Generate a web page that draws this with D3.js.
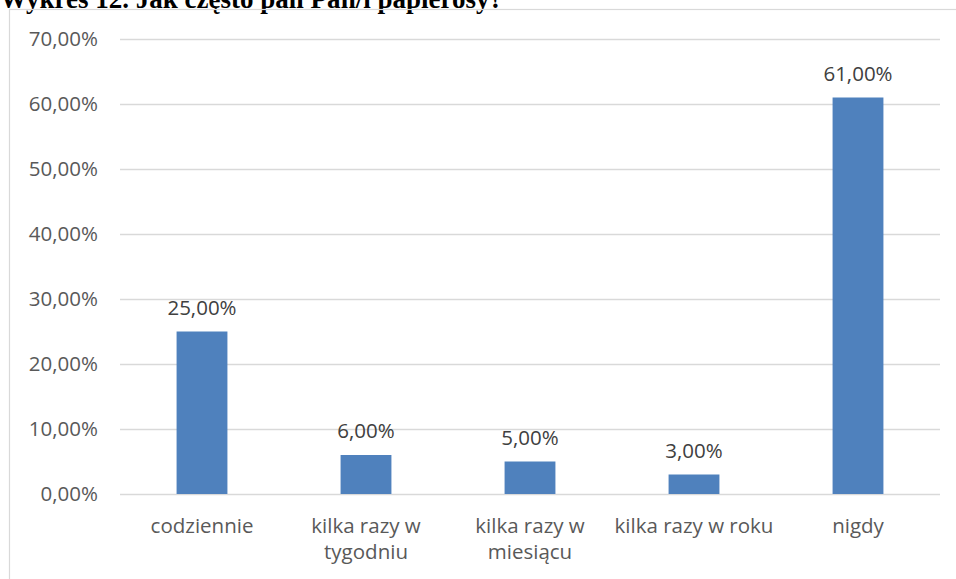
<!DOCTYPE html>
<html>
<head>
<meta charset="utf-8">
<script src="https://cdn.jsdelivr.net/npm/d3@7"></script>
<style>
  body { margin: 0; background: #fff; }
  svg { display: block; }
</style>
</head>
<body>
<svg id="chart" width="956" height="579"></svg>
<script>
// dane z wykresu
const categories = ["codziennie", "kilka razy w tygodniu", "kilka razy w miesiącu", "kilka razy w roku", "nigdy"];
const labelLines = [["codziennie"], ["kilka razy w", "tygodniu"], ["kilka razy w", "miesiącu"], ["kilka razy w roku"], ["nigdy"]];
const values = [0.25, 0.06, 0.05, 0.03, 0.61];
const yTicks = [0, 0.1, 0.2, 0.3, 0.4, 0.5, 0.6, 0.7];

const svg = d3.select("#chart");
const fontFam = "'Open Sans', 'Noto Sans', sans-serif";
const fs = 20.5;

const plot = { left: 120, right: 940, top: 39, bottom: 494 };

// tytuł (ucięty u góry jak w oryginale)
svg.append("text")
  .attr("x", 0)
  .attr("y", 8)
  .attr("font-family", "'Liberation Serif', 'Times New Roman', serif")
  .attr("font-weight", "bold")
  .attr("font-size", 27)
  .attr("textLength", 503)
  .attr("lengthAdjust", "spacingAndGlyphs")
  .attr("fill", "#000")
  .text("Wykres 12. Jak często pali Pan/i papierosy?");

// ramka wykresu
svg.append("rect")
  .attr("x", 9.5)
  .attr("y", 9.5)
  .attr("width", 960)
  .attr("height", 600)
  .attr("fill", "none")
  .attr("stroke", "#d9d9d9")
  .attr("stroke-width", 1.2);

const x = d3.scaleBand()
  .domain(categories)
  .range([plot.left, plot.right])
  .padding(0);

const y = d3.scaleLinear()
  .domain([0, 0.7])
  .range([plot.bottom, plot.top]);

const fmt = v => d3.format(".2f")(v * 100).replace(".", ",") + "%";

// linie siatki
svg.append("g")
  .selectAll("line")
  .data(yTicks)
  .join("line")
  .attr("x1", plot.left)
  .attr("x2", plot.right)
  .attr("y1", d => Math.round(y(d)) + 0.5)
  .attr("y2", d => Math.round(y(d)) + 0.5)
  .attr("stroke", "#d9d9d9")
  .attr("stroke-width", 1.5);

// etykiety osi Y
svg.append("g")
  .selectAll("text")
  .data(yTicks)
  .join("text")
  .attr("x", 98)
  .attr("y", d => y(d))
  .attr("dy", "0.36em")
  .attr("text-anchor", "end")
  .attr("font-family", fontFam)
  .attr("font-size", fs)
  .attr("fill", "#595959")
  .text(fmt);

// słupki
const barW = x.bandwidth() * 0.31;
svg.append("g")
  .selectAll("rect")
  .data(values)
  .join("rect")
  .attr("x", (d, i) => x(categories[i]) + x.bandwidth() / 2 - barW / 2)
  .attr("y", d => y(d))
  .attr("width", barW)
  .attr("height", d => y(0) - y(d))
  .attr("fill", "#4f81bd");

// etykiety danych
svg.append("g")
  .selectAll("text")
  .data(values)
  .join("text")
  .attr("x", (d, i) => x(categories[i]) + x.bandwidth() / 2)
  .attr("y", d => y(d) - 17)
  .attr("text-anchor", "middle")
  .attr("font-family", fontFam)
  .attr("font-size", fs)
  .attr("fill", "#404040")
  .text(fmt);

// etykiety kategorii
const catG = svg.append("g")
  .selectAll("text")
  .data(labelLines)
  .join("text")
  .attr("x", (d, i) => x(categories[i]) + x.bandwidth() / 2)
  .attr("y", 533)
  .attr("text-anchor", "middle")
  .attr("font-family", fontFam)
  .attr("font-size", fs)
  .attr("fill", "#595959");

catG.selectAll("tspan")
  .data(d => d)
  .join("tspan")
  .attr("x", function() { return this.parentNode.getAttribute("x"); })
  .attr("dy", (d, i) => i === 0 ? 0 : 26)
  .text(d => d);
</script>
</body>
</html>
